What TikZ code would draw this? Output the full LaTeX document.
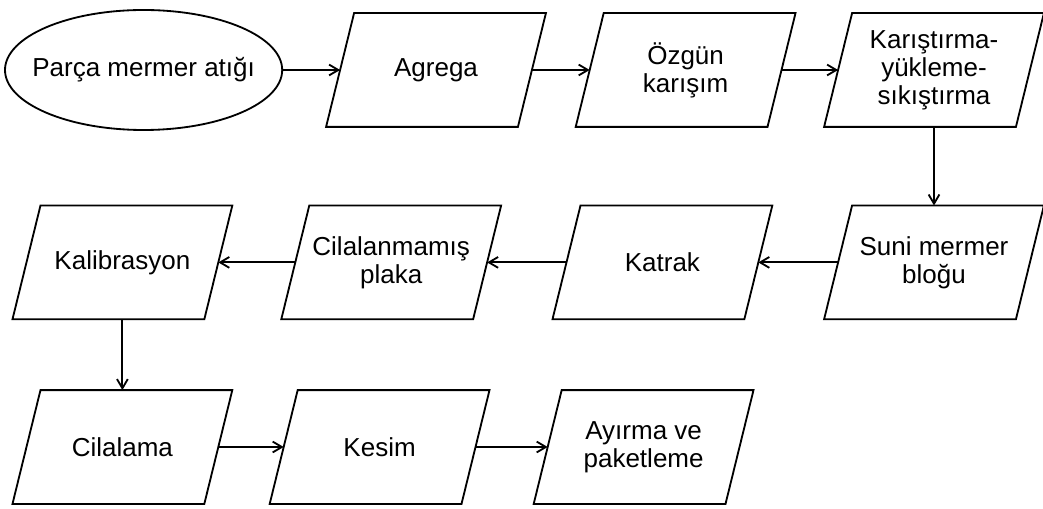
\documentclass[tikz,border=0pt]{standalone}
\usepackage{fontspec}
\setsansfont{Liberation Sans}
\usepackage{tikz}
\usetikzlibrary{arrows.meta,shapes.geometric,calc}

\begin{document}
\begin{tikzpicture}[
 x=1cm,y=1cm,font=\sffamily\fontsize{18.5}{20}\selectfont,line width=1.3pt,
 start/.style={draw,ellipse,minimum width=6.93cm,minimum height=3cm,inner sep=0pt},
 stepbox/.style={minimum width=4.75cm,minimum height=2.8cm,inner sep=0pt,align=center},
 flow/.style={-{Straight Barb[length=2.3mm,width=2.7mm]}}]
\useasboundingbox (0,0) rectangle (26.075,12.7);
% top row
\node[start] (waste) at (3.59,10.95) {\makebox[0pt]{Parça mermer atığı}};
\node[stepbox] (agrega) at (10.9,10.95) {Agrega};
\node[stepbox] (mix) at (17.14,10.95) {Özgün\\karışım};
\node[stepbox] (press) at (23.35,10.95) {Karıştırma-\\yükleme-\\sıkıştırma};
% middle row, right to left
\node[stepbox] (block) at (23.35,6.14) {Suni mermer\\bloğu};
\node[stepbox] (katrak) at (16.56,6.14) {Katrak};
\node[stepbox] (slab) at (9.78,6.14) {Cilalanmamış\\plaka};
\node[stepbox] (calib) at (3.06,6.14) {Kalibrasyon};
% bottom row
\node[stepbox] (polish) at (3.06,1.525) {Cilalama};
\node[stepbox] (cut) at (9.49,1.525) {Kesim};
\node[stepbox] (pack) at (16.09,1.525) {Ayırma ve\\paketleme};
% slanted outlines round the step nodes
\foreach \n in {agrega,mix,press,block,katrak,slab,calib,polish,cut,pack}
  \draw ($(\n.south west)+(-0.35,0)$) -- ($(\n.north west)+(0.35,0)$)
    -- ($(\n.north east)+(0.35,0)$) -- ($(\n.south east)+(-0.35,0)$) -- cycle;
\draw[flow] (waste) -- (agrega);
\draw[flow] (agrega) -- (mix);
\draw[flow] (mix) -- (press);
\draw[flow] (press) -- (block);
\draw[flow] (block) -- (katrak);
\draw[flow] (katrak) -- (slab);
\draw[flow] (slab) -- (calib);
\draw[flow] (calib) -- (polish);
\draw[flow] (polish) -- (cut);
\draw[flow] (cut) -- (pack);
\end{tikzpicture}
\end{document}
